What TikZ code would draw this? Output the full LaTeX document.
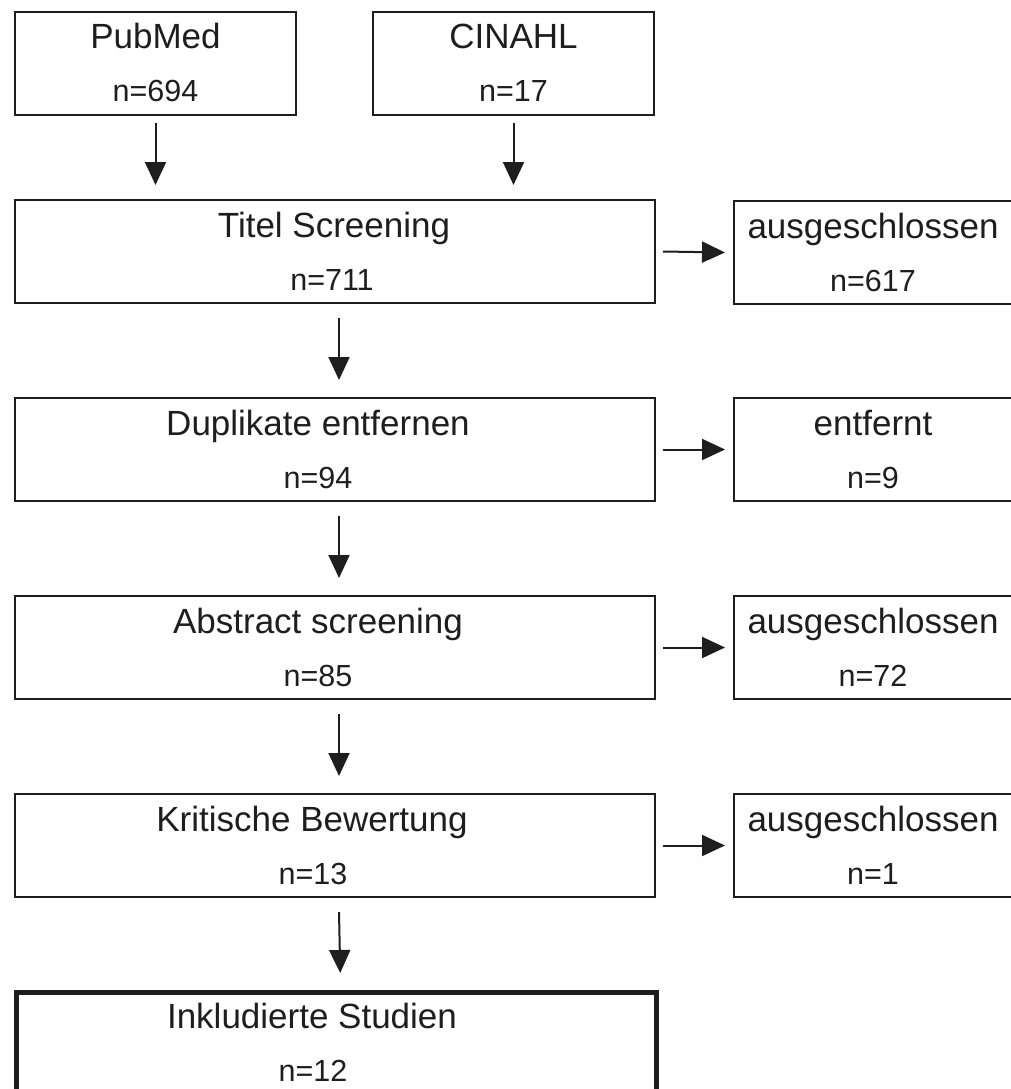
\documentclass[tikz,border=0pt]{standalone}
\usepackage{fontspec}
\setmainfont{Liberation Sans}
\usetikzlibrary{arrows.meta,calc}
\definecolor{ink}{HTML}{1E1E1E}
\begin{document}
\begin{tikzpicture}[x=1pt,y=-1pt,
  box/.style={draw=ink, line width=2pt, inner sep=0pt, anchor=north west, fill=white},
  leftbox/.style={box, minimum width=640pt, minimum height=103pt},
  srcbox/.style={box, minimum width=281pt, minimum height=103pt},
  sidebox/.style={box, minimum width=290pt, minimum height=103pt},
  finalbox/.style={box, line width=4.5pt, minimum width=640pt, minimum height=200pt},
  ttl/.style={anchor=base, inner sep=0pt, text=ink, font=\fontsize{35}{40}\selectfont},
  num/.style={anchor=base, inner sep=0pt, text=ink, font=\fontsize{30.5}{36}\selectfont},
  arr/.style={draw=ink, line width=2pt, -{Triangle[length=23pt,width=21pt]}}]
\useasboundingbox[fill=white] (0,0) rectangle (1011,1089);

% sources
\node[srcbox] (pm) at (14,11) {};
\node[ttl] (pmT) at ($(pm.north)+(0,38)$) {PubMed};
\node[num] (pmN) at ($(pm.north)+(0,91)$) {n=694};
\node[srcbox] (ci) at (372,11) {};
\node[ttl] (ciT) at ($(ci.north)+(0,38)$) {CINAHL};
\node[num] (ciN) at ($(ci.north)+(0,91)$) {n=17};

% main column
\node[leftbox] (ts) at (14,199) {};
\node[ttl] (tsT) at ($(ts.north west)+(320,38)$) {Titel Screening};
\node[num] (tsN) at ($(ts.north west)+(318,91)$) {n=711};

\node[leftbox] (du) at (14,397) {};
\node[ttl] (duT) at ($(du.north west)+(304,38)$) {Duplikate entfernen};
\node[num] (duN) at ($(du.north west)+(304,91)$) {n=94};

\node[leftbox] (ab) at (14,595) {};
\node[ttl] (abT) at ($(ab.north west)+(304,38)$) {Abstract screening};
\node[num] (abN) at ($(ab.north west)+(304,91)$) {n=85};

\node[leftbox] (kb) at (14,793) {};
\node[ttl] (kbT) at ($(kb.north west)+(298,38)$) {Kritische Bewertung};
\node[num] (kbN) at ($(kb.north west)+(299,91)$) {n=13};

\node[finalbox] (in) at (14,990) {};
\node[ttl] (inT) at ($(in.north west)+(298,38)$) {Inkludierte Studien};
\node[num] (inN) at ($(in.north west)+(299,91)$) {n=12};

% side column
\node[sidebox] (x1) at (733,200) {};
\node[ttl] (x1T) at ($(x1.north west)+(140,38)$) {ausgeschlossen};
\node[num] (x1N) at ($(x1.north west)+(140,91)$) {n=617};

\node[sidebox] (x2) at (733,397) {};
\node[ttl] (x2T) at ($(x2.north west)+(140,38)$) {entfernt};
\node[num] (x2N) at ($(x2.north west)+(140,91)$) {n=9};

\node[sidebox] (x3) at (733,595) {};
\node[ttl] (x3T) at ($(x3.north west)+(140,38)$) {ausgeschlossen};
\node[num] (x3N) at ($(x3.north west)+(140,91)$) {n=72};

\node[sidebox] (x4) at (733,793) {};
\node[ttl] (x4T) at ($(x4.north west)+(140,38)$) {ausgeschlossen};
\node[num] (x4N) at ($(x4.north west)+(140,91)$) {n=1};

% vertical arrows
\draw[arr] ([yshift=-7pt]pm.south) -- (pm.south |- {$(ts.north)+(0,-14)$});
\draw[arr] ([yshift=-7pt]ci.south) -- (ci.south |- {$(ts.north)+(0,-14)$});
\draw[arr] ([xshift=4pt,yshift=-14pt]ts.south) -- ([xshift=4pt,yshift=17pt]du.north);
\draw[arr] ([xshift=4pt,yshift=-14pt]du.south) -- ([xshift=4pt,yshift=17pt]ab.north);
\draw[arr] ([xshift=4pt,yshift=-14pt]ab.south) -- ([xshift=4pt,yshift=17pt]kb.north);
\draw[arr] ([xshift=4pt,yshift=-14pt]kb.south) -- ([xshift=4pt,yshift=17pt]in.north);

% horizontal arrows
\draw[arr] ([xshift=7pt]ts.east) -- ([xshift=-8pt]x1.west);
\draw[arr] ([xshift=7pt]du.east) -- ([xshift=-8pt]x2.west);
\draw[arr] ([xshift=7pt]ab.east) -- ([xshift=-8pt]x3.west);
\draw[arr] ([xshift=7pt]kb.east) -- ([xshift=-8pt]x4.west);
\end{tikzpicture}
\end{document}
